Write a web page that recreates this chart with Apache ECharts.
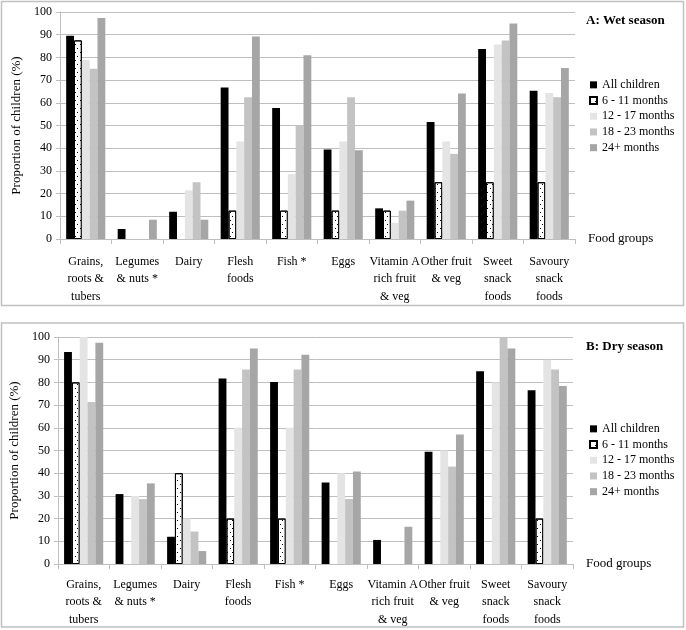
<!DOCTYPE html>
<html><head><meta charset="utf-8">
<script src="https://cdn.jsdelivr.net/npm/echarts@6/dist/echarts.min.js"></script>
<style>html,body{margin:0;padding:0;background:#fff}#c{width:686px;height:630px}</style>
</head><body><div id="c"></div>
<script>
const categories = ['Grains,\nroots &\ntubers', 'Legumes\n& nuts *', 'Dairy', 'Flesh\nfoods', 'Fish *', 'Eggs', 'Vitamin A\nrich fruit\n& veg', 'Other fruit\n& veg', 'Sweet\nsnack\nfoods', 'Savoury\nsnack\nfoods'];
const seriesNames = ['All children', '6 - 11 months', '12 - 17 months', '18 - 23 months', '24+ months'];
const yTicks = [0, 10, 20, 30, 40, 50, 60, 70, 80, 90, 100];

const wetAll   = [89.5, 4.4, 12.0, 66.7, 57.7, 39.4, 13.5, 51.5, 83.7, 65.3];
const wet6_11  = [87.5, 0, 0, 12.5, 12.5, 12.5, 12.5, 25, 25, 25];
const wet12_17 = [78.9, 0, 21.4, 42.9, 28.6, 42.9, 7.1, 42.9, 85.7, 64.3];
const wet18_23 = [75, 0, 25, 62.5, 50, 62.5, 12.5, 37.5, 87.5, 62.5];
const wet24    = [97.4, 8.5, 8.5, 89.2, 80.9, 39.1, 16.9, 64.1, 94.9, 75.3];

const dryAll   = [93.4, 30.8, 12.0, 81.7, 80.2, 35.9, 10.6, 49.4, 84.9, 76.5];
const dry6_11  = [80, 0, 40, 20, 20, 0, 0, 0, 0, 20];
const dry12_17 = [100, 30, 20, 60, 60, 40, 0, 50, 80, 90];
const dry18_23 = [71.4, 28.6, 14.3, 85.7, 85.7, 28.6, 0, 42.9, 100, 85.7];
const dry24    = [97.5, 35.5, 5.7, 94.9, 92.2, 40.8, 16.4, 57.0, 94.9, 78.4];

const wetData = [wetAll, wet6_11, wet12_17, wet18_23, wet24];
const dryData = [dryAll, dry6_11, dry12_17, dry18_23, dry24];

const FONT = '"Liberation Serif", "Times New Roman", serif';
const GRID_COLOR = '#bfbfbf';
const styles = [
  { color: '#000000' },
  { color: '#ffffff', borderColor: '#000000', borderWidth: 1,
    decal: { symbol: 'rect', symbolSize: 1, color: '#000000', backgroundColor: null,
             dashArrayX: [[1, 4], [0, 2, 1, 2]], dashArrayY: [1, 3], rotation: 0 } },
  { color: '#e4e4e4' },
  { color: '#c3c3c3' },
  { color: '#a6a6a6' }
];

function xAxis(gridIndex, margin) {
  return {
    type: 'category', gridIndex, data: categories,
    name: 'Food groups', nameLocation: 'end', nameGap: 13,
    nameTextStyle: { fontFamily: FONT, fontSize: 13, color: '#000', align: 'left', verticalAlign: 'middle' },
    axisLine: { show: true, lineStyle: { color: GRID_COLOR, width: 1 } },
    axisTick: { show: true, length: 5, alignWithLabel: false, lineStyle: { color: GRID_COLOR } },
    axisLabel: { interval: 0, fontFamily: FONT, fontSize: 12, lineHeight: 17.5, color: '#000', margin },
    splitLine: { show: false }
  };
}
function yAxis(gridIndex, nameGap) {
  return {
    type: 'value', gridIndex, min: yTicks[0], max: yTicks[yTicks.length - 1], interval: 10,
    name: 'Proportion of children (%)', nameLocation: 'middle', nameGap, nameRotate: 90,
    nameTextStyle: { fontFamily: FONT, fontSize: 13, color: '#000' },
    axisLine: { show: true, lineStyle: { color: GRID_COLOR, width: 1 } },
    axisTick: { show: true, length: 4, lineStyle: { color: GRID_COLOR } },
    axisLabel: { fontFamily: FONT, fontSize: 12, color: '#000', margin: 8 },
    splitLine: { show: true, lineStyle: { color: GRID_COLOR, width: 1 } }
  };
}
function legend(top) {
  return {
    orient: 'vertical', left: 589, top, padding: 0, data: seriesNames, icon: 'rect',
    itemWidth: 7, itemHeight: 7, itemGap: 0,
    textStyle: { fontFamily: FONT, fontSize: 12, color: '#000', lineHeight: 15.7 },
    selectedMode: false
  };
}

const series = [];
[wetData, dryData].forEach((set, gi) => {
  set.forEach((vals, si) => {
    series.push({
      type: 'bar', name: seriesNames[si], xAxisIndex: gi, yAxisIndex: gi,
      data: vals.map(v => v === 0 ? { value: v, itemStyle: { borderWidth: 0 } } : v),
      barGap: '0%', barCategoryGap: '24%',
      itemStyle: styles[si], emphasis: { disabled: true }, animation: false
    });
  });
});

const chart = echarts.init(document.getElementById('c'), null, { renderer: 'canvas' });
chart.setOption({
  backgroundColor: '#ffffff',
  animation: false,
  title: [
    { text: 'A: Wet season', left: 586, top: 14, padding: 0, textStyle: { fontFamily: FONT, fontSize: 13, fontWeight: 'bold', color: '#000' } },
    { text: 'B: Dry season', left: 586, top: 340, padding: 0, textStyle: { fontFamily: FONT, fontSize: 13, fontWeight: 'bold', color: '#000' } }
  ],
  graphic: [
    { type: 'rect', shape: { x: 1.5, y: 1.5, width: 682, height: 304 }, style: { fill: null, stroke: '#c0c0c0', lineWidth: 1.5 }, silent: true },
    { type: 'rect', shape: { x: 1.5, y: 323, width: 682, height: 304 }, style: { fill: null, stroke: '#c0c0c0', lineWidth: 1.5 }, silent: true }
  ],
  legend: [legend(77), legend(421)],
  grid: [
    { left: 60, right: 111, top: 12, bottom: 391, containLabel: false },
    { left: 53, right: 113, top: 337, bottom: 66, containLabel: false }
  ],
  xAxis: [xAxis(0, 14), xAxis(1, 12)],
  yAxis: [yAxis(0, 31), yAxis(1, 36)],
  series
});
</script>
</body></html>
